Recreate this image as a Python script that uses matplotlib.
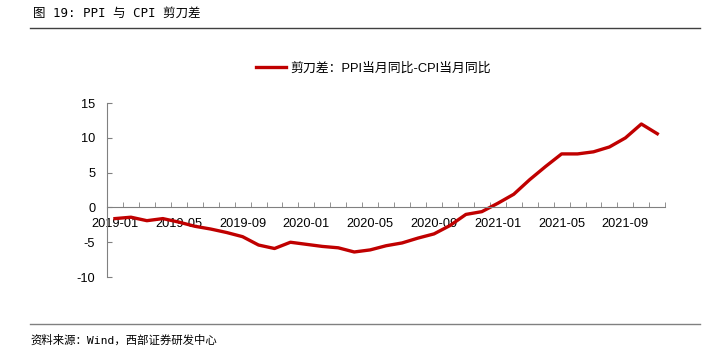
import matplotlib.pyplot as plt
import numpy as np

months = ["2019-01", "2019-02", "2019-03", "2019-04", "2019-05", "2019-06",
          "2019-07", "2019-08", "2019-09", "2019-10", "2019-11", "2019-12",
          "2020-01", "2020-02", "2020-03", "2020-04", "2020-05", "2020-06",
          "2020-07", "2020-08", "2020-09", "2020-10", "2020-11", "2020-12",
          "2021-01", "2021-02", "2021-03", "2021-04", "2021-05", "2021-06",
          "2021-07", "2021-08", "2021-09", "2021-10", "2021-11"]
spread = [-1.6, -1.4, -1.9, -1.6, -2.1, -2.7, -3.1, -3.6, -4.2, -5.4, -5.9, -5.0,
          -5.3, -5.6, -5.8, -6.4, -6.1, -5.5, -5.1, -4.4, -3.8, -2.6, -1.0, -0.6,
          0.6, 1.9, 4.0, 5.9, 7.7, 7.7, 8.0, 8.7, 10.0, 12.0, 10.6]
y_ticks = [-10, -5, 0, 5, 10, 15]

plt.rcParams['font.family'] = ['Liberation Sans', 'Noto Sans CJK SC']
plt.rcParams['font.size'] = 9
mono_cjk = ['DejaVu Sans Mono', 'Noto Sans CJK SC']

fig = plt.figure(figsize=(7.04, 3.52), dpi=100)
ax = fig.add_axes([0.152, 0.213, 0.793, 0.494])

x = np.arange(len(months))
ax.plot(x, spread, color='#C00000', lw=2.4, label='剪刀差：PPI当月同比-CPI当月同比')

ax.set_xlim(-0.5, len(months) - 0.5)
ax.set_ylim(-10, 15)
ax.set_yticks(y_ticks)
ax.set_yticklabels([str(v) for v in y_ticks])

# month ticks between categories, labels every 4 months
ax.set_xticks(np.arange(-0.5, len(months), 1), minor=True)
ax.set_xticks(x[::4])
ax.set_xticklabels(months[::4])
ax.tick_params(axis='x', which='major', length=0, pad=7.5, labelsize=9.2)
ax.tick_params(axis='x', which='minor', length=3.5, direction='in', color='#808080')
ax.tick_params(axis='y', length=3.5, direction='in', color='#808080', pad=8.5, labelsize=9.2)

for s in ['top', 'right']:
    ax.spines[s].set_visible(False)
ax.spines['bottom'].set_position(('data', 0))
ax.spines['bottom'].set_color('#808080')
ax.spines['left'].set_color('#808080')

ax.legend(loc='lower center', bbox_to_anchor=(0.478, 1.095), frameon=False,
          handlelength=2.3, handletextpad=0.35, fontsize=9.3)

fig.text(0.047, 0.963, '图 19: PPI 与 CPI 剪刀差', family=mono_cjk, fontsize=9, va='center')
fig.add_artist(plt.Line2D([0.043, 0.995], [0.92, 0.92], color='#404040', lw=1))
fig.add_artist(plt.Line2D([0.043, 0.995], [0.08, 0.08], color='#808080', lw=1))
fig.text(0.043, 0.035, '资料来源：Wind，西部证券研发中心', family=mono_cjk, fontsize=8.2, va='center')

fig.savefig('out.png', dpi=100)
